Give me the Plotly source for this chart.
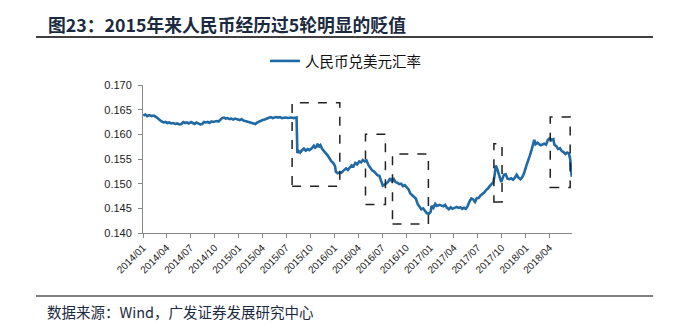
import plotly.graph_objects as go

dates = [
"2014-01-02","2014-01-10","2014-01-17","2014-01-24","2014-02-03","2014-02-12","2014-02-20","2014-02-27",
"2014-03-06","2014-03-13","2014-03-20","2014-03-28","2014-04-04","2014-04-11","2014-04-18","2014-04-25",
"2014-05-05","2014-05-12","2014-05-20","2014-05-27","2014-06-04","2014-06-11","2014-06-18","2014-06-25",
"2014-07-03","2014-07-10","2014-07-17","2014-07-24","2014-07-31","2014-08-08","2014-08-15","2014-08-22",
"2014-08-29","2014-09-05","2014-09-12","2014-09-19","2014-09-26","2014-10-09","2014-10-16","2014-10-23",
"2014-10-30","2014-11-06","2014-11-13","2014-11-20","2014-11-27","2014-12-04","2014-12-11","2014-12-18",
"2014-12-25","2015-01-05","2015-01-12","2015-01-19","2015-01-26","2015-02-02","2015-02-10","2015-02-17",
"2015-02-27","2015-03-06","2015-03-13","2015-03-20","2015-03-27","2015-04-03","2015-04-10","2015-04-17",
"2015-04-24","2015-05-04","2015-05-11","2015-05-18","2015-05-25","2015-06-01","2015-06-08","2015-06-15",
"2015-06-23","2015-06-30","2015-07-08","2015-07-15","2015-07-22","2015-07-29","2015-08-05","2015-08-10",
"2015-08-11","2015-08-12","2015-08-13","2015-08-18","2015-08-24","2015-08-31","2015-09-07","2015-09-14",
"2015-09-21","2015-09-28","2015-10-08","2015-10-15","2015-10-20","2015-10-26","2015-10-29","2015-11-03",
"2015-11-09","2015-11-16","2015-11-23","2015-11-30","2015-12-07","2015-12-14","2015-12-21","2015-12-28",
"2016-01-04","2016-01-07","2016-01-14","2016-01-21","2016-01-28","2016-02-04","2016-02-15","2016-02-22",
"2016-02-29","2016-03-07","2016-03-14","2016-03-21","2016-03-28","2016-04-05","2016-04-12","2016-04-19",
"2016-04-26","2016-05-03","2016-05-10","2016-05-17","2016-05-24","2016-05-31","2016-06-07","2016-06-14",
"2016-06-21","2016-06-27","2016-07-04","2016-07-11","2016-07-18","2016-07-25","2016-08-01","2016-08-08",
"2016-08-15","2016-08-22","2016-08-29","2016-09-05","2016-09-12","2016-09-19","2016-09-26","2016-10-10",
"2016-10-17","2016-10-24","2016-10-31","2016-11-07","2016-11-14","2016-11-21","2016-11-28","2016-12-05",
"2016-12-12","2016-12-19","2016-12-27","2017-01-03","2017-01-06","2017-01-13","2017-01-20","2017-01-26",
"2017-02-06","2017-02-13","2017-02-20","2017-02-27","2017-03-06","2017-03-13","2017-03-20","2017-03-27",
"2017-04-05","2017-04-12","2017-04-19","2017-04-26","2017-05-03","2017-05-10","2017-05-17","2017-05-24",
"2017-05-31","2017-06-07","2017-06-14","2017-06-21","2017-06-28","2017-07-05","2017-07-12","2017-07-19",
"2017-07-26","2017-08-02","2017-08-09","2017-08-16","2017-08-23","2017-08-30","2017-09-04","2017-09-08",
"2017-09-13","2017-09-19","2017-09-25","2017-09-29","2017-10-09","2017-10-16","2017-10-23","2017-10-30",
"2017-11-06","2017-11-13","2017-11-20","2017-11-27","2017-12-04","2017-12-11","2017-12-18","2017-12-25",
"2018-01-02","2018-01-09","2018-01-16","2018-01-23","2018-01-29","2018-02-02","2018-02-07","2018-02-14",
"2018-02-26","2018-03-05","2018-03-12","2018-03-19","2018-03-26","2018-04-02","2018-04-09","2018-04-16",
"2018-04-20","2018-04-27","2018-05-04","2018-05-11","2018-05-18","2018-05-25","2018-06-01","2018-06-08",
"2018-06-14","2018-06-19","2018-06-21","2018-06-25"]

cny_usd = [
0.1638,0.1640,0.1637,0.1639,0.1637,0.1638,0.1635,0.1631,
0.1629,0.1626,0.1624,0.1625,0.1623,0.1624,0.1622,0.1623,
0.1621,0.1622,0.1620,0.1621,0.1625,0.1623,0.1624,0.1622,
0.1625,0.1623,0.1621,0.1624,0.1622,0.1620,0.1621,0.1625,
0.1624,0.1625,0.1623,0.1626,0.1625,0.1627,0.1626,0.1629,
0.1633,0.1634,0.1632,0.1633,0.1631,0.1632,0.1630,0.1632,
0.1631,0.1629,0.1631,0.1628,0.1627,0.1626,0.1626,0.1624,
0.1622,0.1621,0.1624,0.1626,0.1628,0.1629,0.1630,0.1632,
0.1633,0.1635,0.1633,0.1634,0.1635,0.1634,0.1635,0.1633,
0.1634,0.1634,0.1633,0.1634,0.1634,0.1633,0.1634,0.1634,
0.1609,0.1574,0.1562,0.1566,0.1563,0.1568,0.1571,0.1567,
0.1570,0.1568,0.1572,0.1577,0.1573,0.1576,0.1581,0.1574,
0.1578,0.1570,0.1566,0.1563,0.1557,0.1551,0.1545,0.1542,
0.1535,0.1524,0.1521,0.1523,0.1522,0.1526,0.1531,0.1528,
0.1533,0.1537,0.1535,0.1542,0.1539,0.1545,0.1543,0.1548,
0.1545,0.1547,0.1538,0.1533,0.1527,0.1525,0.1521,0.1517,
0.1516,0.1505,0.1496,0.1498,0.1501,0.1504,0.1511,0.1505,
0.1509,0.1503,0.1502,0.1499,0.1500,0.1495,0.1497,0.1489,
0.1480,0.1477,0.1474,0.1470,0.1459,0.1452,0.1448,0.1450,
0.1446,0.1440,0.1439,0.1443,0.1455,0.1451,0.1459,0.1455,
0.1457,0.1456,0.1454,0.1457,0.1451,0.1448,0.1452,0.1449,
0.1451,0.1453,0.1451,0.1452,0.1449,0.1451,0.1449,0.1455,
0.1464,0.1470,0.1468,0.1463,0.1471,0.1471,0.1476,0.1479,
0.1482,0.1487,0.1490,0.1495,0.1499,0.1503,0.1518,0.1537,
0.1531,0.1521,0.1508,0.1503,0.1518,0.1519,0.1510,0.1509,
0.1511,0.1508,0.1512,0.1518,0.1512,0.1509,0.1513,0.1521,
0.1535,0.1544,0.1557,0.1569,0.1584,0.1589,0.1580,0.1583,
0.1578,0.1579,0.1581,0.1579,0.1589,0.1592,0.1588,0.1590,
0.1579,0.1576,0.1570,0.1572,0.1566,0.1564,0.1560,0.1563,
0.1561,0.1550,0.1535,0.1514]

tick_vals = ["2014-01-01","2014-04-01","2014-07-01","2014-10-01","2015-01-01","2015-04-01",
             "2015-07-01","2015-10-01","2016-01-01","2016-04-01","2016-07-01","2016-10-01",
             "2017-01-01","2017-04-01","2017-07-01","2017-10-01","2018-01-01","2018-04-01"]
tick_text = ["2014/01","2014/04","2014/07","2014/10","2015/01","2015/04","2015/07","2015/10",
             "2016/01","2016/04","2016/07","2016/10","2017/01","2017/04","2017/07","2017/10",
             "2018/01","2018/04"]

# depreciation boxes: start, end, low, high
box_start = ["2015-07-24","2016-04-29","2016-08-10","2017-09-01","2018-04-04"]
box_end = ["2016-01-22","2016-07-14","2016-12-25","2017-10-02","2018-06-19"]
box_low = [0.1495,0.1458,0.1418,0.1463,0.1492]
box_high = [0.1664,0.1600,0.1560,0.1581,0.1635]

series_name = "人民币兑美元汇率"
title_text = "图23：2015年来人民币经历过5轮明显的贬值"
source_text = "数据来源：Wind，广发证券发展研究中心"

W, H = 675, 334
L, R, T, B = 143, 103, 85, 101
pw, ph = W - L - R, H - T - B

def px(xp):
    return (xp - L) / pw

def py(yp):
    return (H - B - yp) / ph

fig = go.Figure()
fig.add_trace(go.Scatter(x=dates, y=cny_usd, mode="lines", name=series_name,
                         line=dict(color="#1f6aa5", width=2.6)))

shapes = []
for s, e, lo, hi in zip(box_start, box_end, box_low, box_high):
    shapes.append(dict(type="rect", xref="x", yref="y", x0=s, x1=e, y0=lo, y1=hi,
                       line=dict(color="#222222", width=1.5, dash="dash"),
                       fillcolor="rgba(0,0,0,0)"))
shapes.append(dict(type="line", xref="paper", yref="paper", x0=px(36), x1=px(653),
                   y0=py(37), y1=py(37), line=dict(color="black", width=1.5)))
shapes.append(dict(type="line", xref="paper", yref="paper", x0=px(36), x1=px(653),
                   y0=py(296), y1=py(296), line=dict(color="black", width=1.2)))

annotations = [
    dict(text="<b>" + title_text + "</b>", xref="paper", yref="paper", x=px(46), y=py(24),
         xanchor="left", yanchor="middle", showarrow=False,
         font=dict(family="Noto Sans CJK SC", size=17.8, color="#1b2a41")),
    dict(text=source_text, xref="paper", yref="paper", x=px(45), y=py(311),
         xanchor="left", yanchor="middle", showarrow=False,
         font=dict(family="Noto Sans CJK SC", size=14.5, color="#1b2a41")),
]

fig.update_layout(
    width=W, height=H,
    margin=dict(l=L, r=R, t=T, b=B, pad=0),
    paper_bgcolor="white", plot_bgcolor="white",
    showlegend=True,
    legend=dict(orientation="h", x=px(265), y=py(61), xanchor="left", yanchor="middle",
                font=dict(family="Noto Sans CJK SC", size=14.5, color="#111111"),
                bgcolor="rgba(0,0,0,0)"),
    shapes=shapes, annotations=annotations,
    font=dict(family="Liberation Sans, Arial", color="#222222"),
)
fig.update_xaxes(type="date", range=["2014-01-01", "2018-06-26"], tickvals=tick_vals,
                 ticktext=tick_text, tickangle=-45, showgrid=False, zeroline=False,
                 showline=True, linecolor="#888888", linewidth=1, ticks="outside",
                 ticklen=4, tickcolor="#888888", tickfont=dict(size=10, color="#222222"))
fig.update_yaxes(range=[0.140, 0.170], dtick=0.005, tickformat=".3f", showgrid=False,
                 zeroline=False, showline=True, linecolor="#888888", linewidth=1,
                 ticks="outside", ticklen=4, tickcolor="#888888", ticklabelstandoff=4,
                 tickfont=dict(size=11, color="#222222"))

fig.write_html("out.html")
